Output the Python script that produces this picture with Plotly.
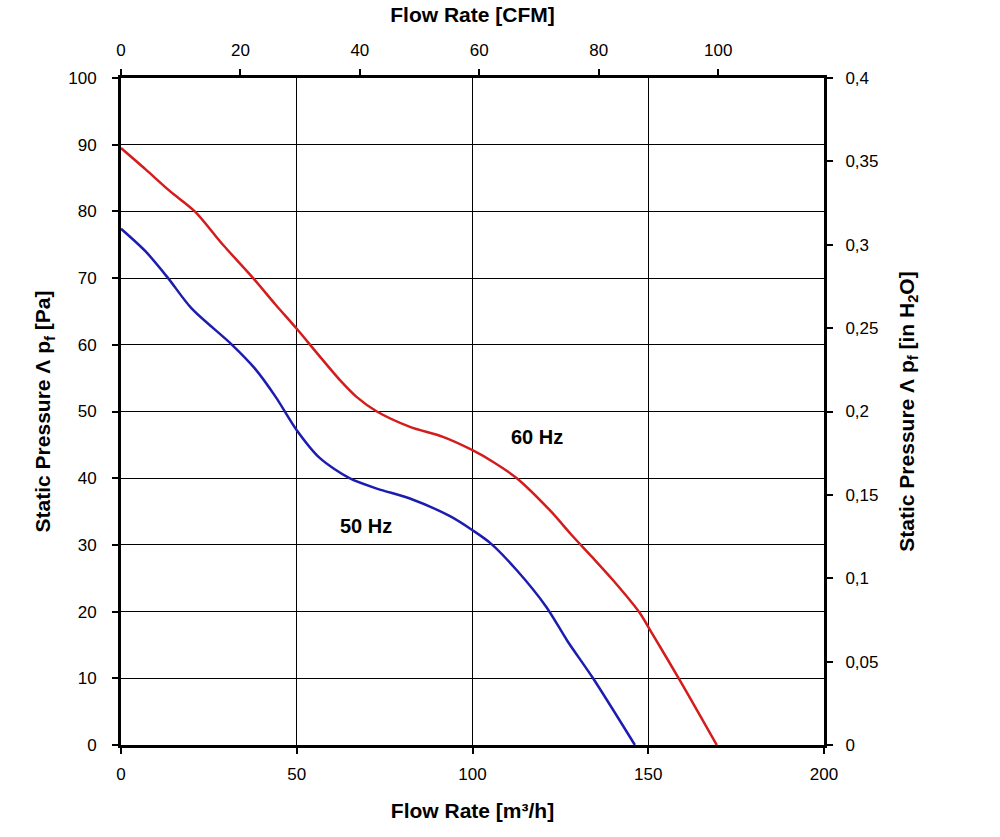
import plotly.graph_objects as go

# Data (Flow rate m3/h, static pressure Pa)
flow_60 = [0, 7, 14, 21, 29, 37.6, 44, 50, 56, 62.3, 67, 72.8, 82.2, 91.6, 100, 106, 112.6, 122, 128, 134, 140, 147.6, 151, 159, 169.5]
pres_60 = [89.5, 86.3, 83, 80, 75, 70, 66, 62.4, 58.6, 54.7, 52.2, 50, 47.7, 46.2, 44.2, 42.4, 40, 35.2, 31.6, 28.2, 24.7, 19.8, 16.8, 9.7, 0]

flow_50 = [0, 7, 13.4, 20, 31.6, 38, 44, 50, 56.6, 65, 73, 82, 93.6, 100, 105, 112.6, 121, 127, 134.3, 146.2]
pres_50 = [77.4, 74, 70, 65.5, 60, 56.5, 52.2, 47.2, 43, 40, 38.4, 37, 34.3, 32.2, 30.3, 26.2, 20.7, 15.6, 10, 0]

label_text = ["60 Hz", "50 Hz"]
label_x = [118.3, 69.7]
label_y = [46.2, 32.8]

x_ticks = [0, 50, 100, 150, 200]
y_ticks = [0, 10, 20, 30, 40, 50, 60, 70, 80, 90, 100]
cfm_ticks = [0, 20, 40, 60, 80, 100]
inh2o_ticks = [0, 0.05, 0.1, 0.15, 0.2, 0.25, 0.3, 0.35, 0.4]
inh2o_labels = ["0", "0,05", "0,1", "0,15", "0,2", "0,25", "0,3", "0,35", "0,4"]

M3H_TO_CFM = 0.5886
FONT = "Liberation Sans, Arial, sans-serif"

fig = go.Figure()
fig.add_trace(go.Scatter(x=flow_60, y=pres_60, mode="lines", line=dict(color="#d41c1c", width=2.5, shape="spline", smoothing=0.8), showlegend=False))
fig.add_trace(go.Scatter(x=flow_50, y=pres_50, mode="lines", line=dict(color="#1c1cb0", width=2.5, shape="spline", smoothing=0.8), showlegend=False))
# invisible trace to activate secondary axes
fig.add_trace(go.Scatter(x=[0], y=[0], xaxis="x2", yaxis="y2", mode="markers", marker=dict(opacity=0), showlegend=False, hoverinfo="skip"))

for t, xx, yy in zip(label_text, label_x, label_y):
    fig.add_annotation(x=xx, y=yy, text="<b>" + t + "</b>", showarrow=False,
                       font=dict(family=FONT, size=20, color="black"), xref="x", yref="y")

tickfont = dict(family=FONT, size=17, color="black")
titlefont = dict(family=FONT, size=21, color="black", weight="bold")

common = dict(showline=True, linecolor="black", linewidth=3, ticks="outside", ticklen=6, tickwidth=2,
              tickcolor="black", tickfont=tickfont, zeroline=False)

fig.update_layout(
    width=1000, height=837,
    margin=dict(l=121, r=176, t=78, b=92),
    paper_bgcolor="white", plot_bgcolor="white",
    xaxis=dict(range=[0, 200], tickvals=x_ticks, showgrid=True, gridcolor="black", gridwidth=1,
               ticklabelstandoff=6,
               title=dict(text="Flow Rate [m³/h]", font=titlefont, standoff=20), **common),
    yaxis=dict(range=[0, 100], tickvals=y_ticks, showgrid=True, gridcolor="black", gridwidth=1,
               ticklabelstandoff=12,
               title=dict(text="Static Pressure Λ p<sub>f</sub> [Pa]", font=titlefont, standoff=12), **common),
    xaxis2=dict(range=[0, 200 * M3H_TO_CFM], tickvals=cfm_ticks, overlaying="x", side="top", showgrid=False,
                ticklabelstandoff=6,
                title=dict(text="Flow Rate [CFM]", font=titlefont, standoff=13), **common),
    yaxis2=dict(range=[0, 0.4], tickvals=inh2o_ticks, ticktext=inh2o_labels, overlaying="y", side="right",
                showgrid=False, ticklabelstandoff=9,
                title=dict(text="Static Pressure Λ p<sub>f</sub> [in H<sub>2</sub>O]", font=titlefont, standoff=22), **common),
)

fig.write_html("out.html")
